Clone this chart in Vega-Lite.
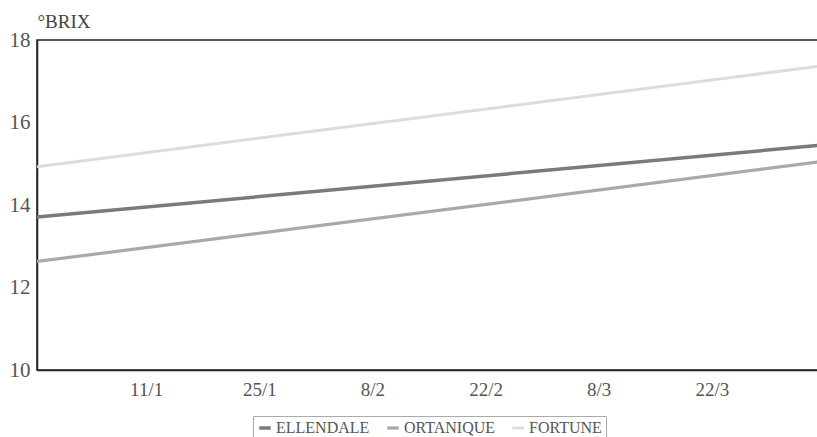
{
  "$schema": "https://vega.github.io/schema/vega-lite/v6.json",
  "autosize": {"type": "none"},
  "width": 784,
  "height": 330,
  "padding": {"left": 37, "top": 40, "right": 0, "bottom": 67},
  "background": "white",
  "config": {
    "font": "Liberation Serif",
    "axis": {"labelFont": "Liberation Serif", "titleFont": "Liberation Serif"},
    "legend": {"labelFont": "Liberation Serif"},
    "view": {"stroke": "#222", "strokeWidth": 1.5}
  },
  "data": {
    "values": [
      {"date": "2001-12-28T12:00:00Z", "variety": "ELLENDALE", "brix": 13.71},
      {"date": "2002-04-04T12:00:00Z", "variety": "ELLENDALE", "brix": 15.45},
      {"date": "2001-12-28T12:00:00Z", "variety": "ORTANIQUE", "brix": 12.63},
      {"date": "2002-04-04T12:00:00Z", "variety": "ORTANIQUE", "brix": 15.05},
      {"date": "2001-12-28T12:00:00Z", "variety": "FORTUNE", "brix": 14.93},
      {"date": "2002-04-04T12:00:00Z", "variety": "FORTUNE", "brix": 17.37}
    ]
  },
  "mark": {"type": "line", "clip": true},
  "encoding": {
    "x": {
      "field": "date",
      "type": "temporal",
      "scale": {
        "type": "utc",
        "domain": [
          {"year": 2001, "month": 12, "date": 28, "hours": 12, "utc": true},
          {"year": 2002, "month": 4, "date": 4, "hours": 12, "utc": true}
        ]
      },
      "axis": {
        "title": null,
        "grid": false,
        "ticks": false,
        "domainColor": "#222",
        "domainWidth": 1.5,
        "format": "%-d/%-m",
        "labelFontSize": 19,
        "labelColor": "#555",
        "labelPadding": 10,
        "values": [
          {"year": 2002, "month": 1, "date": 11, "utc": true},
          {"year": 2002, "month": 1, "date": 25, "utc": true},
          {"year": 2002, "month": 2, "date": 8, "utc": true},
          {"year": 2002, "month": 2, "date": 22, "utc": true},
          {"year": 2002, "month": 3, "date": 8, "utc": true},
          {"year": 2002, "month": 3, "date": 22, "utc": true}
        ]
      }
    },
    "y": {
      "field": "brix",
      "type": "quantitative",
      "scale": {"domain": [10, 18], "nice": false, "zero": false},
      "axis": {
        "title": "°BRIX",
        "titleAngle": 0,
        "titleAlign": "left",
        "titleBaseline": "alphabetic",
        "titleX": 0,
        "titleY": -13,
        "titleFontSize": 19,
        "titleFontWeight": "normal",
        "titleColor": "#444",
        "values": [10, 12, 14, 16, 18],
        "grid": false,
        "ticks": false,
        "domainColor": "#222",
        "domainWidth": 1.5,
        "labelFontSize": 21,
        "labelColor": "#555",
        "labelPadding": 7
      }
    },
    "color": {
      "field": "variety",
      "type": "nominal",
      "sort": ["ELLENDALE", "ORTANIQUE", "FORTUNE"],
      "scale": {
        "domain": ["ELLENDALE", "ORTANIQUE", "FORTUNE"],
        "range": ["#7a7a7a", "#a9a9a9", "#dcdcdc"]
      },
      "legend": {
        "title": null,
        "orient": "none",
        "direction": "horizontal",
        "legendX": 216,
        "legendY": 376,
        "symbolType": "stroke",
        "symbolStrokeWidth": 4,
        "symbolSize": 130,
        "labelFontSize": 16,
        "labelColor": "#555",
        "labelOffset": 3,
        "columnPadding": 10,
        "strokeColor": "#aaa",
        "padding": 4
      }
    },
    "strokeWidth": {
      "field": "variety",
      "type": "nominal",
      "scale": {
        "domain": ["ELLENDALE", "ORTANIQUE", "FORTUNE"],
        "range": [3.5, 3, 2.5]
      },
      "legend": null
    }
  }
}
